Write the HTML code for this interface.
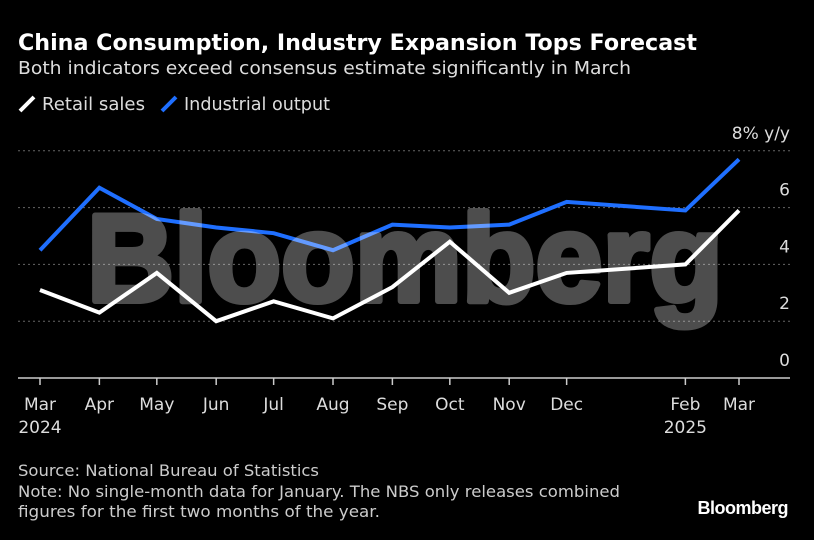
<!DOCTYPE html>
<html><head><meta charset="utf-8"><style>
body{margin:0;background:#000;width:814px;height:536px;overflow:hidden;font-family:"DejaVu Sans","Liberation Sans",sans-serif;color:#fff}
</style></head><body>
<svg width="814" height="536" viewBox="0 0 814 536" xmlns="http://www.w3.org/2000/svg" font-family="DejaVu Sans, Liberation Sans, sans-serif">
<text x="18" y="50" font-size="22" font-weight="bold" fill="#fff" textLength="679" lengthAdjust="spacingAndGlyphs">China Consumption, Industry Expansion Tops Forecast</text>
<text x="18" y="74" font-size="18" fill="#ddd" textLength="613" lengthAdjust="spacingAndGlyphs">Both indicators exceed consensus estimate significantly in March</text>
<g>
<line x1="20" y1="111" x2="34" y2="97" stroke="#fff" stroke-width="4"/>
<text x="42" y="110" font-size="18" fill="#ddd" textLength="103" lengthAdjust="spacingAndGlyphs">Retail sales</text>
<line x1="162" y1="111" x2="176" y2="97" stroke="#1f6fff" stroke-width="4"/>
<text x="184" y="110" font-size="18" fill="#ddd" textLength="146" lengthAdjust="spacingAndGlyphs">Industrial output</text>
</g>
<g id="grid"></g>
<g id="series"></g>
<g opacity="0.3">
<text x="87" y="301" font-size="124" font-weight="bold" fill="#fff" stroke="#fff" stroke-width="6" stroke-linejoin="round" textLength="636" lengthAdjust="spacingAndGlyphs" font-family="Liberation Sans, sans-serif">Bloomberg</text>
</g>
<g id="xaxis"></g>
<text x="18" y="476" font-size="16" fill="#ccc" textLength="301" lengthAdjust="spacingAndGlyphs">Source: National Bureau of Statistics</text>
<text x="18" y="497" font-size="16" fill="#ccc" textLength="602" lengthAdjust="spacingAndGlyphs">Note: No single-month data for January. The NBS only releases combined</text>
<text x="18" y="517" font-size="16" fill="#ccc" textLength="362" lengthAdjust="spacingAndGlyphs">figures for the first two months of the year.</text>
<text x="788" y="514" font-size="18" font-weight="bold" fill="#fff" text-anchor="end" letter-spacing="-0.5" font-family="Liberation Sans, sans-serif">Bloomberg</text>
</svg>
<script>
const dates=["2024-03-01","2024-04-01","2024-05-01","2024-06-01","2024-07-01","2024-08-01","2024-09-01","2024-10-01","2024-11-01","2024-12-01","2025-02-01","2025-03-01"];
const monthLabels=["Mar","Apr","May","Jun","Jul","Aug","Sep","Oct","Nov","Dec","Feb","Mar"];
const retailSales=[3.1,2.3,3.7,2.0,2.7,2.1,3.2,4.8,3.0,3.7,4.0,5.9];
const industrialOutput=[4.5,6.7,5.6,5.3,5.1,4.5,5.4,5.3,5.4,6.2,5.9,7.7];
const yTicks=[0,2,4,6,8];
const yTickLabels=["0","2","4","6","8% y/y"];
const NS="http://www.w3.org/2000/svg";
const t0=Date.parse(dates[0]),t1=Date.parse(dates[dates.length-1]);
function x(d){return 40+(Date.parse(d)-t0)/(t1-t0)*699;}
function y(v){return 378-v*28.4;}
function mk(tag,attrs,parent){const e=document.createElementNS(NS,tag);for(const k in attrs)e.setAttribute(k,attrs[k]);parent.appendChild(e);return e;}
const grid=document.getElementById('grid');
yTicks.forEach((v,i)=>{
 if(v>0){const l=mk('line',{x1:18,x2:790,y1:y(v),y2:y(v),stroke:'#666','stroke-dasharray':'2,3','stroke-width':1},grid);
 
 }
 const t=mk('text',{x:790,y:y(v)-12,'font-size':17,fill:'#ddd','text-anchor':'end'},grid);
 t.textContent=yTickLabels[i];
 
 
});
const ax=document.getElementById('xaxis');
const base=mk('line',{x1:18,x2:790,y1:378,y2:378,stroke:'#ccc','stroke-width':1.5},ax);


dates.forEach((d,i)=>{
 const tk=mk('line',{x1:x(d),x2:x(d),y1:378,y2:385,stroke:'#ccc','stroke-width':1.5},ax);
 
 
 const t=mk('text',{x:x(d),y:410,'font-size':17,fill:'#ddd','text-anchor':'middle'},ax);
 t.textContent=monthLabels[i];
 
 
});
[["2024",0],["2025",10]].forEach(([yr,i])=>{
 const t=mk('text',{x:x(dates[i]),y:433,'font-size':17,fill:'#ddd','text-anchor':'middle'},ax);
 t.textContent=yr;
 
 
});
const ser=document.getElementById('series');
function line(vals,color,name){
 const p=mk('polyline',{points:vals.map((v,i)=>x(dates[i])+','+y(v)).join(' '),fill:'none',stroke:color,'stroke-width':4,'stroke-linejoin':'miter'},ser);
 
 
}
line(industrialOutput,'#1f6fff','industrial-output-line');
line(retailSales,'#ffffff','retail-sales-line');
</script>
</body></html>
